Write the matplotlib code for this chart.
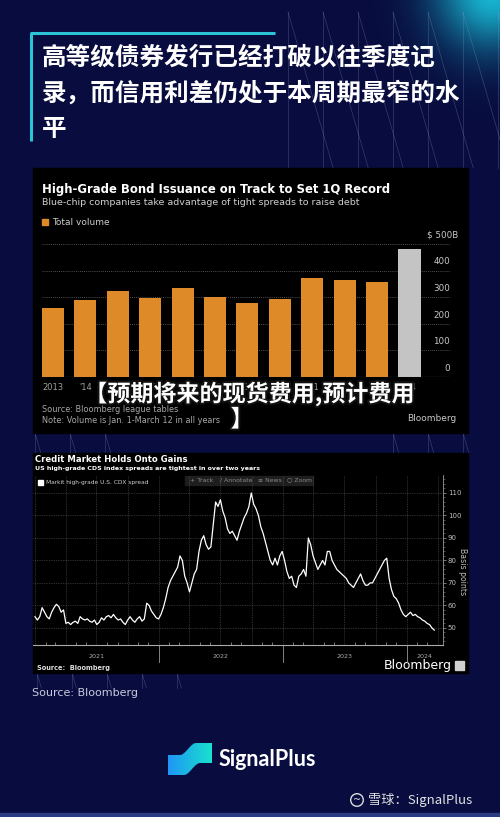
import numpy as np
import pandas as pd
import matplotlib
matplotlib.use('Agg')
import matplotlib.pyplot as plt
import matplotlib.dates as mdates
from matplotlib.patches import Rectangle, Polygon, Circle
import matplotlib.patheffects as pe

# ---------------- data ----------------
title_lines = ["高等级债券发行已经打破以往季度记", "录，而信用利差仍处于本周期最窄的水", "平"]

bar_years = ["2013", "'14", "'15", "'16", "'17", "'18", "'19", "'20", "'21", "'22", "'23", "'24"]
bar_values = [259, 290, 322, 296, 334, 301, 280, 295, 374, 366, 357, 481]
bar_ticks = [0, 100, 200, 300, 400]

cdx_start = '2021-01-01'
cdx_values = [
    55, 53.5, 55, 59, 57, 55, 54, 57, 59, 60.5,
    59.5, 57, 58, 52, 52.5, 51.5, 52.5, 53, 52, 55,
    54, 53.5, 54, 53, 52.5, 53.5, 51.5, 52.5, 54.5, 53.5,
    55, 55.5, 54.5, 56, 54.5, 53.5, 54, 52.5, 51.5, 53.5,
    55, 53.5, 52.5, 54, 55, 53, 54, 61, 60, 57.5,
    56, 54.5, 54, 56, 59, 63, 68, 71, 73, 75,
    77, 82, 80, 73, 70, 66, 70, 74, 76, 84,
    89, 91, 87, 85, 86, 96, 106, 104, 107, 102,
    99, 94, 92, 93, 91, 89, 93, 96, 99, 101,
    104, 110, 105, 103, 100, 95, 92, 88, 84, 80,
    78, 81, 78, 82, 84, 80, 75, 72, 73, 69,
    68, 73, 74, 76, 73, 90, 87, 82, 79, 76,
    78, 80, 78, 84, 84, 80, 78, 76, 75, 74,
    73, 72, 70, 69, 68, 70, 72, 74, 71, 69,
    69, 70, 70, 72, 74, 76, 78, 80, 81, 72,
    67, 64, 63, 61, 58, 56, 55, 56, 57, 55.5,
    56, 55, 54.5, 53.5, 53, 52, 51.5, 50, 49,
]
cdx_yticks = [50, 60, 70, 80, 90, 100, 110]
year_labels = ['2021', '2022', '2023', '2024']
year_label_dates = ['2021-07-02', '2022-07-02', '2023-07-02', '2024-02-22']
year_starts = ['2022-01-01', '2023-01-01', '2024-01-01']

# ---------------- setup ----------------
CJK = ['Noto Sans CJK SC', 'DejaVu Sans']
W, H = 500, 817
fig = plt.figure(figsize=(5, 8.17), dpi=100)


def rect(l, t, r, b):
    return [l / W, 1 - b / H, (r - l) / W, (b - t) / H]


bg = fig.add_axes([0, 0, 1, 1])
yy, xx = np.mgrid[0:H, 0:W]
base = np.array([8, 12, 62]) / 255
glow = np.array([25, 200, 225]) / 255
g = np.exp(-((xx - 492) ** 2 + (yy + 8) ** 2) / (2 * 40 ** 2))[..., None] * 0.9
img = base * (1 - g) + glow * g
bg.imshow(img, extent=[0, W, H, 0], aspect='auto', zorder=0)
bg.set_xlim(0, W)
bg.set_ylim(H, 0)
bg.axis('off')


def pattern(xs, y0, y1, slope=0.29):
    for x0 in xs:
        bg.plot([x0, x0], [y0, y1], color='#8a96c8', lw=0.5, alpha=0.35, zorder=1)
        bg.plot([x0, x0 + (y1 - y0) * slope], [y0, y1], color='#8a96c8', lw=0.5, alpha=0.35, zorder=1)


pattern(np.arange(288, 500, 35), 12, 168)
pattern(np.arange(35, 140, 35), 433, 453)
pattern(np.arange(393, 470, 35), 433, 453)
pattern(np.arange(37, 180, 35), 673, 688)

# title
bg.plot([30, 275], [33, 33], color='#2bc3d6', lw=2.2, zorder=3, solid_capstyle='butt')
bg.plot([31, 31], [33, 141], color='#2bc3d6', lw=2.2, zorder=3, solid_capstyle='butt')
for i, line in enumerate(title_lines):
    bg.text(42, 58 + 35.5 * i, line, color='white', fontsize=17.7, weight='bold',
            family=CJK, va='center', ha='left', zorder=3)

# ---------------- panel 1: bar chart ----------------
bg.add_patch(Rectangle((33, 168), 435, 265, color='black', zorder=2))
bg.text(42, 189, 'High-Grade Bond Issuance on Track to Set 1Q Record', color='white',
        fontsize=8.4, weight='bold', va='center', zorder=3)
bg.text(42, 202, 'Blue-chip companies take advantage of tight spreads to raise debt',
        color='#d0d0d0', fontsize=6.8, va='center', zorder=3)
orange = '#de8a28'
grey = '#c4c4c4'
bg.add_patch(Rectangle((42, 219), 6, 6, color=orange, zorder=3))
bg.text(52, 222, 'Total volume', color='#cccccc', fontsize=6.5, va='center', zorder=3)
bg.text(42, 409, 'Source: Bloomberg league tables', color='#a8a8a8', fontsize=5.9, va='center', zorder=3)
bg.text(42, 420, 'Note: Volume is Jan. 1-March 12 in all years', color='#a8a8a8', fontsize=5.9, va='center', zorder=3)
bg.text(456, 418, 'Bloomberg', color='#c8c8c8', fontsize=6.5, va='center', ha='right', zorder=3)

ax1 = fig.add_axes(rect(42, 244, 450, 377))
ax1.set_facecolor('none')
x = np.arange(len(bar_values))
colors = [orange] * (len(bar_values) - 1) + [grey]
ax1.bar(x, bar_values, width=0.68, color=colors, zorder=2)
ax1.set_xlim(-0.34, 12.25)
ax1.set_ylim(0, 500)
ax1.set_yticks(bar_ticks + [500])
ax1.yaxis.grid(True, linestyle=(0, (1, 1.5)), color='#6a6a6a', lw=0.6, zorder=0)
ax1.tick_params(axis='y', length=0, labelleft=False)
for s in ax1.spines.values():
    s.set_visible(False)
ax1.axhline(0, color='#808080', lw=0.8, zorder=3)
for v in bar_ticks:
    ax1.annotate(str(v), xy=(1, v), xycoords=ax1.get_yaxis_transform(), xytext=(0, 3),
                 textcoords='offset points', ha='right', va='bottom', color='#c8c8c8', fontsize=6.3)
ax1.annotate('$ 500B', xy=(1, 500), xycoords=ax1.get_yaxis_transform(), xytext=(6, 3),
             textcoords='offset points', ha='right', va='bottom', color='#c8c8c8', fontsize=6.3)
ax1.set_xticks(x, bar_years)
ax1.tick_params(axis='x', length=0, pad=4, labelsize=6, labelcolor='#a0a0a0')

# overlay caption (covers the year labels, as in the reference)
fig.text(249 / W, 1 - 394 / H, '【预期将来的现货费用,预计费用', fontsize=16.6, weight='bold', color='white',
         ha='center', va='center', family=CJK, zorder=10,
         path_effects=[pe.withStroke(linewidth=3, foreground='#111111')])
fig.text(242 / W, 1 - 420 / H, '】', fontsize=16.6, weight='bold', color='white',
         ha='center', va='center', family=CJK, zorder=10,
         path_effects=[pe.withStroke(linewidth=3, foreground='#111111')])

# ---------------- panel 2: line chart ----------------
bg.add_patch(Rectangle((33, 453), 435, 220, color='black', zorder=2))
bg.text(35, 459, 'Credit Market Holds Onto Gains', color='white', fontsize=6.1, weight='bold', va='center', zorder=3)
bg.text(35, 468.5, 'US high-grade CDS index spreads are tightest in over two years', color='white',
        fontsize=4.5, weight='bold', va='center', zorder=3)
bg.add_patch(Rectangle((38, 479.5), 5, 5, color='white', zorder=3))
bg.text(46, 482, 'Markit high-grade U.S. CDX spread', color='#d0d0d0', fontsize=4.2, va='center', zorder=3)
bg.add_patch(Rectangle((185, 475.5), 128, 9, color='#1e1e1e', zorder=3))
for tx, lab in zip([190, 220, 258, 287], ['+ Track', '/ Annotate', '≡ News', '○ Zoom']):
    bg.text(tx, 480, lab, color='#8a8a8a', fontsize=4.4, va='center', zorder=4)
bg.text(463, 572, 'Basis points', color='#bbbbbb', fontsize=5.6, rotation=-90, va='center', ha='center', zorder=3)
bg.text(37, 668, 'Source:  Bloomberg', color='#dddddd', fontsize=4.8, weight='bold', va='center', zorder=3)
bg.text(452, 666, 'Bloomberg', color='white', fontsize=9, va='center', ha='right', zorder=3)
bg.add_patch(Rectangle((455, 661), 9, 9, color='#d0d0d0', zorder=3))

ax2 = fig.add_axes(rect(33, 475, 443, 645))
ax2.set_facecolor('none')
dates = pd.date_range(cdx_start, periods=len(cdx_values), freq='7D')
ax2.plot(dates, cdx_values, color='white', lw=0.9, zorder=3)
d0 = mdates.date2num(pd.Timestamp('2021-01-01'))
ax2.set_xlim(d0 - 5.9, d0 + 3.29 * 365.25)
ax2.set_ylim(42.4, 118)
ax2.yaxis.tick_right()
ax2.set_yticks(cdx_yticks)
ax2.set_yticks(np.arange(44, 118, 2), minor=True)
ax2.tick_params(axis='y', which='major', length=2.5, width=0.5, color='#aaaaaa', labelsize=5,
                labelcolor='#bbbbbb', pad=1)
ax2.tick_params(axis='y', which='minor', length=1.2, width=0.4, color='#888888')
ax2.xaxis.set_major_locator(mdates.MonthLocator(bymonth=[1, 4, 7, 10]))
ax2.xaxis.set_minor_locator(mdates.MonthLocator())
ax2.tick_params(axis='x', which='major', length=0, labelbottom=False)
ax2.tick_params(axis='x', which='minor', direction='in', length=2, width=0.5, color='#aaaaaa')
ax2.grid(True, which='major', linestyle=(0, (1, 1.5)), color='#5a5a5a', lw=0.5)
for k in ['top', 'left']:
    ax2.spines[k].set_visible(False)
ax2.spines['right'].set_color('#999999')
ax2.spines['right'].set_linewidth(0.6)
ax2.spines['bottom'].set_color('#aaaaaa')
ax2.spines['bottom'].set_linewidth(0.8)
xt = ax2.get_xaxis_transform()
for ys in year_starts:
    ax2.plot([pd.Timestamp(ys)] * 2, [0, -0.1], transform=xt, clip_on=False, color='#999999', lw=0.6)
for lab, dt in zip(year_labels, year_label_dates):
    ax2.text(pd.Timestamp(dt), -0.07, lab, transform=xt, ha='center', va='center', color='#aaaaaa', fontsize=4.6)

# ---------------- footer ----------------
bg.text(32, 693, 'Source: Bloomberg', color='#c8cade', fontsize=8, va='center', zorder=3)


def smooth(t):
    t = np.clip(t, 0, 1)
    return t * t * (3 - 2 * t)


tx_ = np.linspace(0, 1, 20)
top = [(168, 755)] + [(180 + 16 * t, 755 - 12 * smooth(t)) for t in tx_] + [(212, 743)]
bot = [(212, 763)] + [(200 - 16 * t, 763 + 12 * smooth(t)) for t in tx_] + [(168, 775)]
poly = Polygon(top + bot, closed=True, facecolor='none', edgecolor='none', zorder=3)
bg.add_patch(poly)
gx = np.linspace(0, 1, 64)
grad = np.zeros((2, 64, 3))
c1 = np.array([30, 150, 245]) / 255
c2 = np.array([25, 225, 205]) / 255
grad[:] = c1 * (1 - gx[:, None]) + c2 * gx[:, None]
im = bg.imshow(grad, extent=[168, 212, 775, 743], aspect='auto', zorder=3)
im.set_clip_path(poly)
bg.text(219, 759, 'SignalPlus', color='white', fontsize=15.5, weight='bold', family=['Lato', 'DejaVu Sans'],
        va='center', zorder=3)

# watermark
bg.add_patch(Circle((357, 800), 6.3, fill=False, edgecolor='#dcdcdc', lw=1.0, zorder=3))
bg.text(357, 800, '~', color='#dcdcdc', fontsize=7, ha='center', va='center', zorder=3)
bg.text(368, 800, '雪球：SignalPlus', color='#e2e2e2', fontsize=9.5, family=CJK, va='center', zorder=3)
bg.add_patch(Rectangle((0, 813), 500, 4, color='#2c3c82', zorder=3))

bg.set_xlim(0, W)
bg.set_ylim(H, 0)
fig.savefig('out.png', dpi=100, facecolor='#080c3e')
